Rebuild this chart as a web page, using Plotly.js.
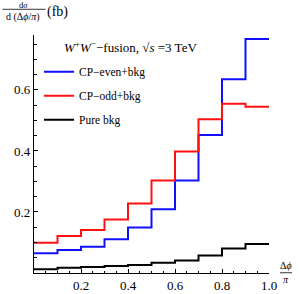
<!DOCTYPE html>
<html><head><meta charset="utf-8">
<script src="https://cdn.plot.ly/plotly-3.0.1.min.js"></script>
<style>html,body{margin:0;padding:0;background:#fff}</style>
</head><body><div id="chart" style="width:300px;height:294px"></div>
<script>
const binEdges = [0,0.1,0.2,0.3,0.4,0.5,0.6,0.7,0.8,0.9,1.0];
const cpEven = [0.065,0.075,0.086,0.111,0.149,0.209,0.303,0.452,0.635,0.767];
const cpOdd  = [0.099,0.121,0.141,0.175,0.228,0.303,0.398,0.504,0.555,0.545];
const pureBkg= [0.012,0.017,0.020,0.023,0.026,0.034,0.041,0.057,0.080,0.095];
const seriesNames = ["CP\u2212even+bkg","CP\u2212odd+bkg","Pure bkg"];
const seriesColors = ["#1010ff","#ff1010","#000000"];
const xTickVals = [0.2,0.4,0.6,0.8,1.0];
const xTickText = ["0.2","0.4","0.6","0.8","1.0"];
const yTickVals = [0.2,0.4,0.6];
const yTickText = ["0.2","0.4","0.6"];

const ext = a => a.concat([a[a.length-1]]);
const data = [cpEven,cpOdd,pureBkg].map((v,i)=>({
  x: binEdges, y: ext(v), type:'scatter', mode:'lines',
  line:{shape:'hv', color:seriesColors[i], width:2},
  name: seriesNames[i], legendgroup:'g'+i
}));

const F = "Liberation Serif, Times New Roman, serif";
const layout = {
  width:300, height:294,
  margin:{l:33.5, r:31, t:35, b:21},
  paper_bgcolor:'#fff', plot_bgcolor:'#fff',
  font:{family:F, size:12, color:'#000'},
  showlegend:true,
  legend:{x:0.0215, y:0.907, xanchor:'left', yanchor:'top', bgcolor:'rgba(0,0,0,0)',
          font:{family:F, size:11.5}, tracegroupgap:5, traceorder:'grouped'},
  xaxis:{range:[0,1.0], showgrid:false, zeroline:false, showline:true, linecolor:'#000', linewidth:1.2,
         tickmode:'array', tickvals:xTickVals, ticktext:xTickText, ticks:'inside', ticklen:4, tickcolor:'#000',
         minor:{tickmode:'linear', tick0:0, dtick:0.05, ticks:'inside', ticklen:2.5, tickcolor:'#000'},
         tickfont:{family:F, size:13}},
  yaxis:{range:[0,0.78], showgrid:false, zeroline:false, showline:true, linecolor:'#000', linewidth:1.2,
         tickmode:'array', tickvals:yTickVals, ticktext:yTickText, ticks:'inside', ticklen:4, tickcolor:'#000',
         minor:{tickmode:'linear', tick0:0, dtick:0.05, ticks:'inside', ticklen:2.5, tickcolor:'#000'},
         tickfont:{family:F, size:13}},
  annotations:[
    {xref:'paper', yref:'paper', x:0.12, y:0.951, text:"<i>W</i><sup>+</sup><i>W</i><sup>\u2212</sup>\u2212fusion, \u221A<i>s</i> =3 TeV",
     showarrow:false, xanchor:'left', yanchor:'middle', font:{family:F, size:13}},
    {xref:'paper', yref:'paper', x:-0.045, y:1.124, text:"d<i>\u03C3</i>", showarrow:false,
     xanchor:'center', yanchor:'middle', font:{family:F, size:8.5}, borderpad:0},
    {xref:'paper', yref:'paper', x:-0.045, y:1.104, text:"d (\u0394<i>\u03D5</i>/<i>\u03C0</i>)", showarrow:false,
     xanchor:'center', yanchor:'top', font:{family:F, size:10}, borderpad:0},
    {xref:'paper', yref:'paper', x:0.053, y:1.095, text:"(fb)", showarrow:false,
     xanchor:'left', yanchor:'middle', font:{family:F, size:14}, borderpad:0},
    {xref:'paper', yref:'paper', x:1.072, y:0.004, text:"\u0394<i>\u03D5</i>", showarrow:false,
     xanchor:'center', yanchor:'bottom', font:{family:F, size:10}, borderpad:0},
    {xref:'paper', yref:'paper', x:1.072, y:-0.002, text:"<i>\u03C0</i>", showarrow:false,
     xanchor:'center', yanchor:'top', font:{family:F, size:10}, borderpad:0}
  ],
  shapes:[
    {type:'line', xref:'paper', yref:'paper', x0:-0.134, x1:0.049, y0:1.108, y1:1.108, line:{color:'#000', width:0.8}},
    {type:'line', xref:'paper', yref:'paper', x0:1.047, x1:1.098, y0:0.001, y1:0.001, line:{color:'#000', width:0.8}}
  ]
};
Plotly.newPlot('chart', data, layout, {displayModeBar:false, staticPlot:true});
</script></body></html>
